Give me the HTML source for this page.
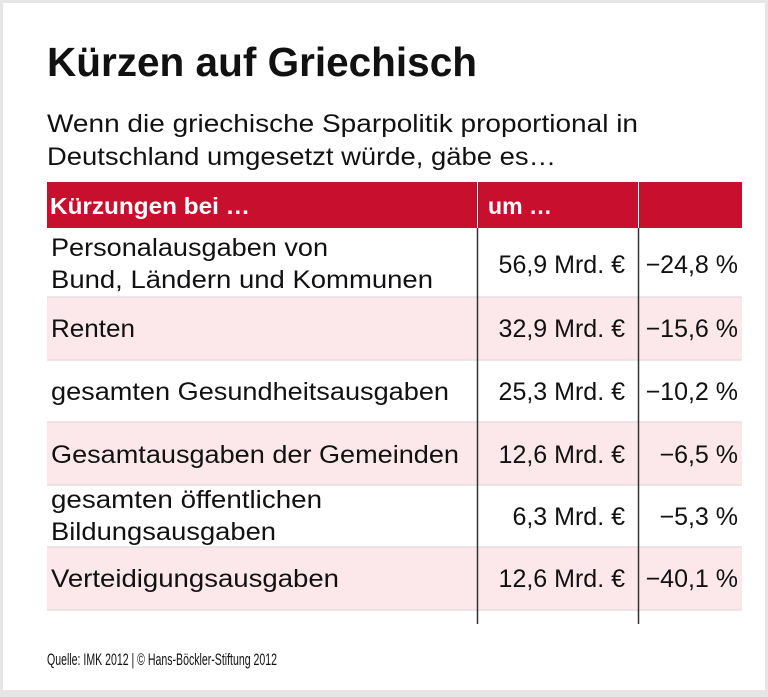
<!DOCTYPE html>
<html><head><meta charset="utf-8"><style>
html,body{margin:0;padding:0;background:#fff}
svg{display:block}
text{font-family:"Liberation Sans",sans-serif;fill:#111}
</style></head><body>
<svg width="768" height="697" viewBox="0 0 768 697" xmlns="http://www.w3.org/2000/svg">
<rect x="0" y="0" width="768" height="697" fill="#e6e6e6"/>
<rect x="3" y="3" width="762" height="687" fill="#fff"/>
<text x="47" y="76" font-size="41" font-weight="bold" textLength="430" lengthAdjust="spacingAndGlyphs">Kürzen auf Griechisch</text>
<text x="47" y="132" font-size="25" textLength="591" lengthAdjust="spacingAndGlyphs">Wenn die griechische Sparpolitik proportional in</text>
<text x="47" y="165" font-size="25" textLength="509" lengthAdjust="spacingAndGlyphs">Deutschland umgesetzt würde, gäbe es…</text>
<rect x="47" y="182" width="695" height="46" fill="#c8102e"/>
<rect x="47" y="297" width="695" height="63" fill="#fce8ea"/>
<rect x="47" y="422" width="695" height="63" fill="#fce8ea"/>
<rect x="47" y="547" width="695" height="63" fill="#fce8ea"/>
<g stroke="#e8dde0" stroke-width="1.5">
<line x1="47" y1="297" x2="742" y2="297"/>
<line x1="47" y1="360" x2="742" y2="360"/>
<line x1="47" y1="422" x2="742" y2="422"/>
<line x1="47" y1="485" x2="742" y2="485"/>
<line x1="47" y1="547" x2="742" y2="547"/>
<line x1="47" y1="610" x2="742" y2="610"/>
</g>
<line x1="477.5" y1="182" x2="477.5" y2="624" stroke="#333" stroke-width="1.5"/>
<line x1="638.5" y1="182" x2="638.5" y2="624" stroke="#333" stroke-width="1.5"/>
<line x1="477.5" y1="182" x2="477.5" y2="228" stroke="#fff" stroke-width="1"/>
<line x1="638.5" y1="182" x2="638.5" y2="228" stroke="#fff" stroke-width="1"/>
<text x="50" y="214" font-size="23" font-weight="bold" style="fill:#fff" textLength="200" lengthAdjust="spacingAndGlyphs">Kürzungen bei …</text>
<text x="488" y="214" font-size="23" font-weight="bold" style="fill:#fff" textLength="64" lengthAdjust="spacingAndGlyphs">um …</text>
<g font-size="25">
<text x="51" y="256" textLength="277" lengthAdjust="spacingAndGlyphs">Personalausgaben von</text>
<text x="51" y="288" textLength="382" lengthAdjust="spacingAndGlyphs">Bund, Ländern und Kommunen</text>
<text x="51" y="337" textLength="84" lengthAdjust="spacingAndGlyphs">Renten</text>
<text x="51" y="400" textLength="398" lengthAdjust="spacingAndGlyphs">gesamten Gesundheitsausgaben</text>
<text x="51" y="463" textLength="408" lengthAdjust="spacingAndGlyphs">Gesamtausgaben der Gemeinden</text>
<text x="51" y="508" textLength="271" lengthAdjust="spacingAndGlyphs">gesamten öffentlichen</text>
<text x="51" y="540" textLength="225" lengthAdjust="spacingAndGlyphs">Bildungsausgaben</text>
<text x="51" y="587" textLength="288" lengthAdjust="spacingAndGlyphs">Verteidigungsausgaben</text>
<g text-anchor="end">
<text x="625" y="273">56,9 Mrd. €</text>
<text x="625" y="337">32,9 Mrd. €</text>
<text x="625" y="400">25,3 Mrd. €</text>
<text x="625" y="463">12,6 Mrd. €</text>
<text x="625" y="525">6,3 Mrd. €</text>
<text x="625" y="587">12,6 Mrd. €</text>
<text x="738" y="273">−24,8 %</text>
<text x="738" y="337">−15,6 %</text>
<text x="738" y="400">−10,2 %</text>
<text x="738" y="463">−6,5 %</text>
<text x="738" y="525">−5,3 %</text>
<text x="738" y="587">−40,1 %</text>
</g>
</g>
<text x="47" y="665" font-size="17" textLength="230" lengthAdjust="spacingAndGlyphs">Quelle: IMK 2012 | © Hans-Böckler-Stiftung 2012</text>
</svg>
</body></html>
